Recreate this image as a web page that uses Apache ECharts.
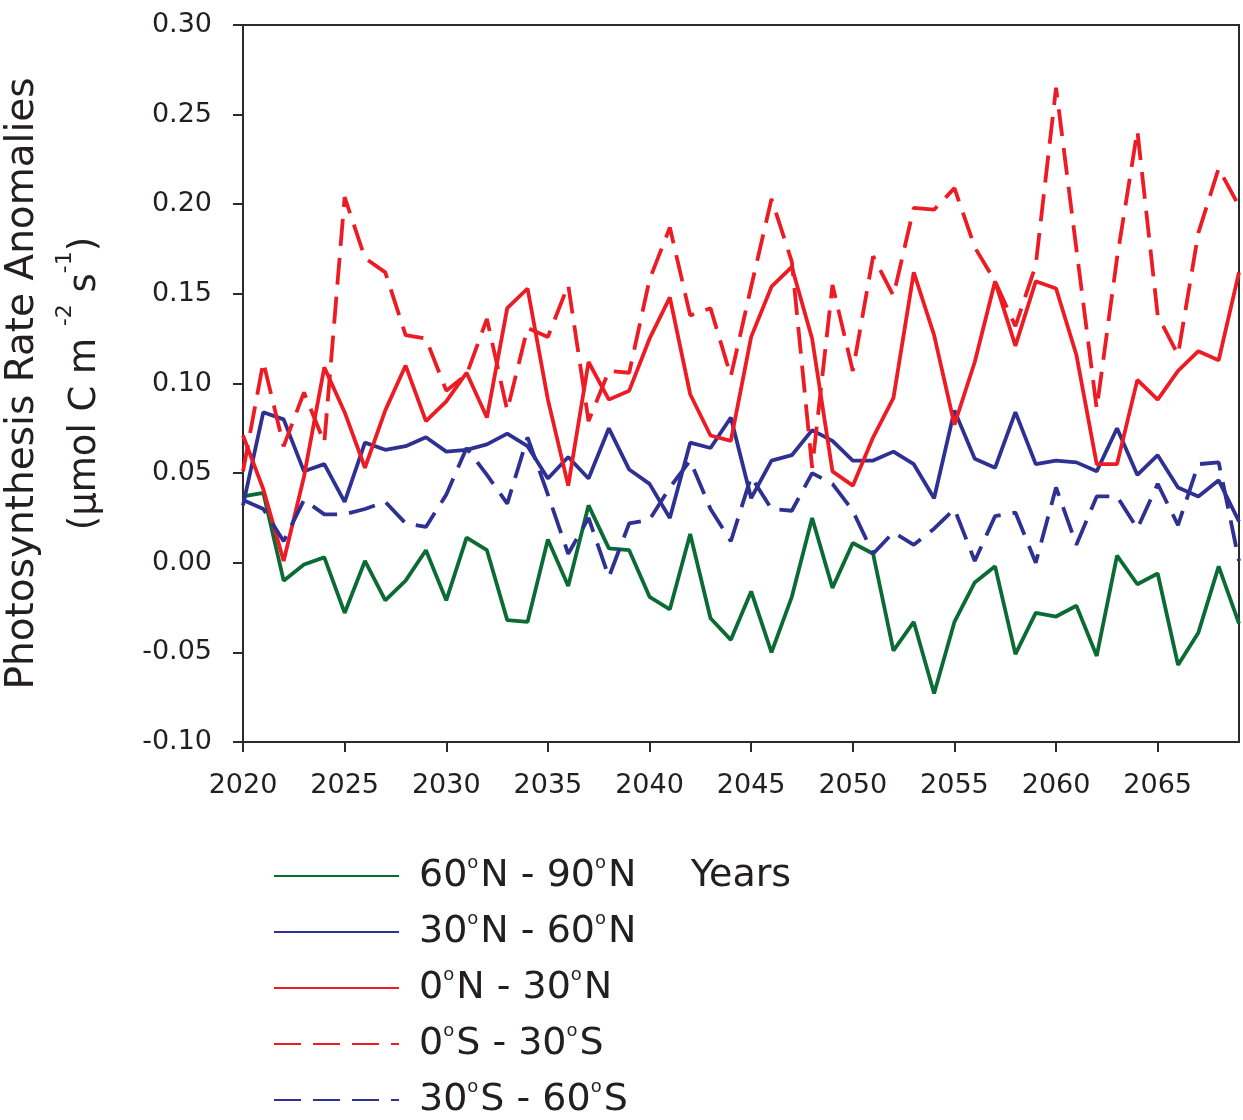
<!DOCTYPE html>
<html lang="en">
<head>
    <meta charset="UTF-8">
    <title>Photosynthesis Rate Anomalies</title>
    <script src="https://cdn.jsdelivr.net/npm/echarts@6/dist/echarts.min.js"></script>
    <style>
        *{
            margin: 0;
            padding: 0;
        }
        body{
            background-color: #fff;
            overflow: hidden;
        }
        #main{
            width: 1243px;
            height: 1120px;
        }
    </style>
</head>
<body>
<div id="main"></div>

<script>
    // years on the x axis
    var years = [2020, 2021, 2022, 2023, 2024, 2025, 2026, 2027, 2028, 2029,
                 2030, 2031, 2032, 2033, 2034, 2035, 2036, 2037, 2038, 2039,
                 2040, 2041, 2042, 2043, 2044, 2045, 2046, 2047, 2048, 2049,
                 2050, 2051, 2052, 2053, 2054, 2055, 2056, 2057, 2058, 2059,
                 2060, 2061, 2062, 2063, 2064, 2065, 2066, 2067, 2068, 2069];

    // 60N - 90N (green, solid)
    var lat60N90N = [0.037, 0.039, -0.010, -0.001, 0.003, -0.028, 0.001, -0.021, -0.010, 0.007,
                     -0.021, 0.014, 0.007, -0.032, -0.033, 0.013, -0.013, 0.032, 0.008, 0.007,
                     -0.019, -0.026, 0.016, -0.031, -0.043, -0.016, -0.050, -0.019, 0.025, -0.014,
                     0.011, 0.005, -0.049, -0.033, -0.073, -0.033, -0.011, -0.002, -0.051, -0.028,
                     -0.030, -0.024, -0.052, 0.004, -0.012, -0.006, -0.057, -0.039, -0.002, -0.034];

    // 30N - 60N (blue, solid)
    var lat30N60N = [0.032, 0.084, 0.080, 0.051, 0.055, 0.034, 0.067, 0.063, 0.065, 0.070,
                     0.062, 0.063, 0.066, 0.072, 0.065, 0.047, 0.059, 0.047, 0.075, 0.052,
                     0.044, 0.025, 0.067, 0.064, 0.081, 0.036, 0.057, 0.060, 0.074, 0.068,
                     0.057, 0.057, 0.062, 0.055, 0.036, 0.085, 0.058, 0.053, 0.084, 0.055,
                     0.057, 0.056, 0.051, 0.075, 0.049, 0.060, 0.042, 0.037, 0.046, 0.023];

    // 0N - 30N (red, solid)
    var lat0N30N = [0.071, 0.041, 0.001, 0.048, 0.109, 0.084, 0.053, 0.085, 0.110, 0.079,
                    0.090, 0.106, 0.081, 0.142, 0.153, 0.091, 0.043, 0.112, 0.091, 0.096,
                    0.125, 0.148, 0.094, 0.071, 0.068, 0.126, 0.154, 0.165, 0.125, 0.051,
                    0.043, 0.070, 0.092, 0.162, 0.127, 0.077, 0.112, 0.157, 0.121, 0.157,
                    0.153, 0.116, 0.055, 0.055, 0.102, 0.091, 0.107, 0.118, 0.113, 0.162];

    // 0S - 30S (red, dashed)
    var lat0S30S = [0.051, 0.112, 0.065, 0.095, 0.067, 0.204, 0.170, 0.162, 0.127, 0.125,
                    0.096, 0.105, 0.136, 0.085, 0.131, 0.126, 0.155, 0.079, 0.107, 0.106,
                    0.158, 0.187, 0.138, 0.142, 0.104, 0.154, 0.203, 0.168, 0.053, 0.155,
                    0.107, 0.171, 0.149, 0.198, 0.197, 0.209, 0.176, 0.157, 0.132, 0.166,
                    0.265, 0.175, 0.086, 0.170, 0.241, 0.138, 0.116, 0.184, 0.220, 0.199];

    // 30S - 60S (blue, dashed)
    var lat30S60S = [0.035, 0.030, 0.012, 0.035, 0.027, 0.027, 0.030, 0.034, 0.022, 0.020,
                     0.038, 0.064, 0.049, 0.033, 0.070, 0.038, 0.005, 0.025, -0.008, 0.022,
                     0.024, 0.042, 0.057, 0.030, 0.012, 0.048, 0.030, 0.029, 0.050, 0.044,
                     0.029, 0.005, 0.017, 0.010, 0.019, 0.030, 0.001, 0.026, 0.028, 0.000,
                     0.042, 0.010, 0.037, 0.037, 0.019, 0.044, 0.021, 0.055, 0.056, 0.001];

    var seriesNames = ['60°N - 90°N', '30°N - 60°N', '0°N - 30°N', '0°S - 30°S', '30°S - 60°S'];

    var GREEN = '#0b6b34';
    var BLUE = '#2e3192';
    var RED = '#ed1c24';
    var INK = '#231f20';
    var FONT = 'DejaVu Sans';

    function pairs(vals) {
        var out = [];
        for (var i = 0; i < years.length; i++) {
            out.push([years[i], vals[i]]);
        }
        return out;
    }

    function lineSeries(name, vals, color, dashed) {
        return {
            name: name,
            type: 'line',
            data: pairs(vals),
            symbol: 'none',
            silent: true,
            animation: false,
            lineStyle: {
                color: color,
                width: 3.8,
                type: dashed ? [27, 12] : 'solid'
            },
            itemStyle: {color: color}
        };
    }

    // 60°N -> 60{s|o}N
    function legendText(name) {
        return '{sp| }{t|' + name.split('°').join('}{s|o}{t|') + '}';
    }

    var myChart = echarts.init(document.getElementById('main'));
    var option = {
        backgroundColor: '#fff',
        grid: {
            left: 243,
            right: 4,
            top: 25,
            bottom: 378,
            outerBoundsMode: 'none',
            show: true,
            borderColor: '#2b2b2b',
            borderWidth: 2,
            backgroundColor: 'transparent'
        },
        legend: {
            data: seriesNames,
            orient: 'vertical',
            left: 273,
            top: 854,
            height: 300,
            padding: 0,
            itemWidth: 125,
            itemHeight: 16,
            itemGap: 15,
            selectedMode: false,
            itemStyle: {opacity: 0},
            formatter: legendText,
            textStyle: {
                color: INK,
                fontFamily: FONT,
                rich: {
                    sp: {width: 15, fontSize: 38, lineHeight: 44},
                    t: {fontSize: 38, lineHeight: 44, fontFamily: FONT, color: INK},
                    s: {fontSize: 18, lineHeight: 18, width: 13, verticalAlign: 'top', fontFamily: FONT, color: INK}
                }
            }
        },
        xAxis: {
            type: 'value',
            min: 2020,
            max: 2069,
            interval: 5,
            name: 'Years',
            nameLocation: 'middle',
            nameGap: 115,
            nameTextStyle: {fontFamily: FONT, fontSize: 38, color: INK},
            axisLine: {onZero: false, lineStyle: {color: '#2b2b2b', width: 2}},
            axisTick: {show: true, length: 10, lineStyle: {color: '#2b2b2b', width: 2}},
            axisLabel: {
                margin: 30,
                fontFamily: FONT,
                fontSize: 27,
                color: INK,
                showMaxLabel: false,
                formatter: function (v) { return String(v); }
            },
            splitLine: {show: false}
        },
        yAxis: {
            type: 'value',
            min: -0.1,
            max: 0.3,
            interval: 0.05,
            name: '{a|Photosynthesis Rate Anomalies}\n{b|(μmol C m }{c|-2}{b| s}{c|-1}{b|)}',
            nameLocation: 'middle',
            nameRotate: 90,
            nameGap: 127,
            nameTextStyle: {
                color: INK,
                fontFamily: FONT,
                rich: {
                    a: {fontSize: 39, lineHeight: 62, fontFamily: FONT, color: INK},
                    b: {fontSize: 37, lineHeight: 62, fontFamily: FONT, color: INK},
                    c: {fontSize: 22, lineHeight: 22, verticalAlign: 'top', fontFamily: FONT, color: INK}
                }
            },
            axisLine: {show: true, onZero: false, lineStyle: {color: '#2b2b2b', width: 2}},
            axisTick: {show: true, length: 10, lineStyle: {color: '#2b2b2b', width: 2}},
            axisLabel: {
                margin: 31,
                fontFamily: FONT,
                fontSize: 27,
                color: INK,
                formatter: function (v) { return v.toFixed(2); }
            },
            splitLine: {show: false}
        },
        series: [
            lineSeries(seriesNames[0], lat60N90N, GREEN, false),
            lineSeries(seriesNames[1], lat30N60N, BLUE, false),
            lineSeries(seriesNames[2], lat0N30N, RED, false),
            lineSeries(seriesNames[3], lat0S30S, RED, true),
            lineSeries(seriesNames[4], lat30S60S, BLUE, true)
        ],
        animation: false
    };

    myChart.setOption(option);
    window.onresize = myChart.resize;
</script>
</body>
</html>
